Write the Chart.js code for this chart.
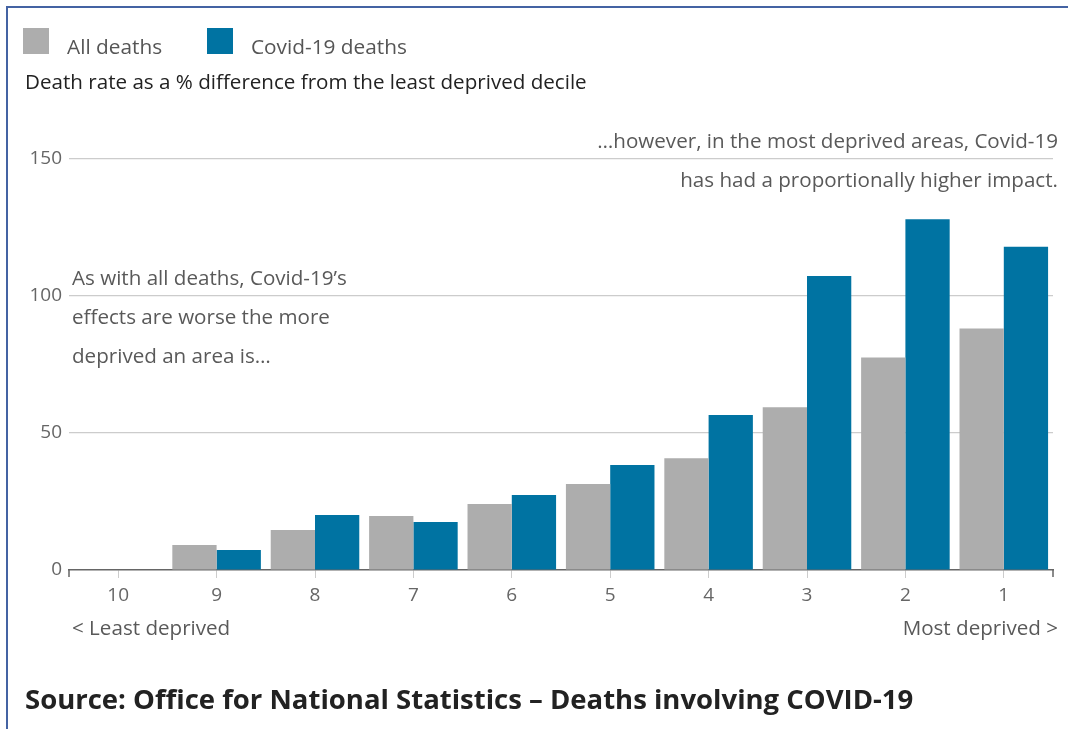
<!DOCTYPE html>
<html>
<head>
<meta charset="utf-8">
<script src="https://cdn.jsdelivr.net/npm/chart.js@4"></script>
<style>
  html, body { margin:0; padding:0; background:#fff; }
  body { width:1068px; height:729px; position:relative; overflow:hidden; font-family:"Open Sans", sans-serif; }
  .frame { position:absolute; left:6px; top:6px; width:1070px; height:740px; border-left:2px solid #4463a3; border-top:2px solid #4463a3; box-sizing:border-box; }
  .abs { position:absolute; white-space:nowrap; line-height:1; }
  .sw { position:absolute; width:26px; height:26px; }
  .leg { font-size:20.8px; color:#555; }
  .sub { font-size:20.6px; color:#222; }
  .ann { font-size:20.6px; color:#595959; }
  .src { font-size:27.5px; font-weight:bold; color:#222; }
  #wrap { position:absolute; left:0; top:0; width:1068px; height:729px; }
</style>
</head>
<body>
<div class="frame"></div>
<div id="wrap"><canvas id="c"></canvas></div>

<div class="sw" style="left:23px;top:28px;background:#adadad"></div>
<div class="abs leg" style="left:67px;top:36px">All deaths</div>
<div class="sw" style="left:207px;top:28px;background:#0073a2"></div>
<div class="abs leg" style="left:251px;top:36px">Covid-19 deaths</div>
<div class="abs sub" style="left:25px;top:71px">Death rate as a % difference from the least deprived decile</div>

<div class="abs ann" style="right:10px;top:130px">…however, in the most deprived areas, Covid-19</div>
<div class="abs ann" style="right:10px;top:169px">has had a proportionally higher impact.</div>
<div class="abs ann" style="left:72px;top:267px">As with all deaths, Covid-19’s</div>
<div class="abs ann" style="left:72px;top:306px">effects are worse the more</div>
<div class="abs ann" style="left:72px;top:345px">deprived an area is…</div>

<div class="abs ann" style="left:72px;top:617px">&lt; Least deprived</div>
<div class="abs ann" style="right:10px;top:617px">Most deprived &gt;</div>

<div class="abs src" style="left:25px;top:685px">Source: Office for National Statistics – Deaths involving COVID-19</div>

<script>
const deciles = ["10","9","8","7","6","5","4","3","2","1"];
const allDeaths = [0, 9.1, 14.6, 19.7, 24.1, 31.4, 40.8, 59.4, 77.6, 88.1];
const covidDeaths = [0, 7.3, 20.1, 17.5, 27.4, 38.3, 56.6, 107.3, 128.0, 118.0];
const yTicks = [0, 50, 100, 150];

const endTicks = {
  id: 'endTicks',
  afterDraw(chart) {
    const { ctx, chartArea: a } = chart;
    ctx.save();
    ctx.strokeStyle = '#666';
    ctx.lineWidth = 1.5;
    ctx.beginPath();
    ctx.moveTo(a.left, a.bottom); ctx.lineTo(a.left, a.bottom + 7);
    ctx.moveTo(a.right, a.bottom); ctx.lineTo(a.right, a.bottom + 7);
    ctx.stroke();
    ctx.restore();
  }
};

new Chart(document.getElementById('c'), {
  type: 'bar',
  data: {
    labels: deciles,
    datasets: [
      { label: 'All deaths', data: allDeaths, backgroundColor: '#adadad', borderWidth: 0 },
      { label: 'Covid-19 deaths', data: covidDeaths, backgroundColor: '#0073a2', borderWidth: 0 }
    ]
  },
  options: {
    responsive: true,
    maintainAspectRatio: false,
    animation: false,
    layout: { padding: { left: 0, top: 159, right: 15, bottom: 119 } },
    plugins: { legend: { display: false }, tooltip: { enabled: false } },
    datasets: { bar: { categoryPercentage: 0.9, barPercentage: 1.0 } },
    scales: {
      x: {
        offset: true,
        grid: { display: true, drawOnChartArea: false, offset: false, tickLength: 8, color: '#cccccc', tickColor: '#cccccc' },
        border: { display: true, color: '#666', width: 1.5 },
        ticks: { color: '#666', font: { family: 'Open Sans', size: 19 }, padding: 6, maxRotation: 0 },
        afterFit(s) { s.height = 40; }
      },
      y: {
        min: 0, max: 150,
        afterBuildTicks(s) { s.ticks = yTicks.map(v => ({ value: v })); },
        grid: {
          drawTicks: false,
          color: ctx => (ctx.tick && ctx.tick.value === 0) ? 'rgba(0,0,0,0)' : '#cccccc',
          lineWidth: 1.2
        },
        border: { display: false },
        ticks: { color: '#666', font: { family: 'Open Sans', size: 19 }, padding: 7 },
        afterFit(s) { s.width = 69; }
      }
    }
  },
  plugins: [endTicks]
});
</script>
</body>
</html>
